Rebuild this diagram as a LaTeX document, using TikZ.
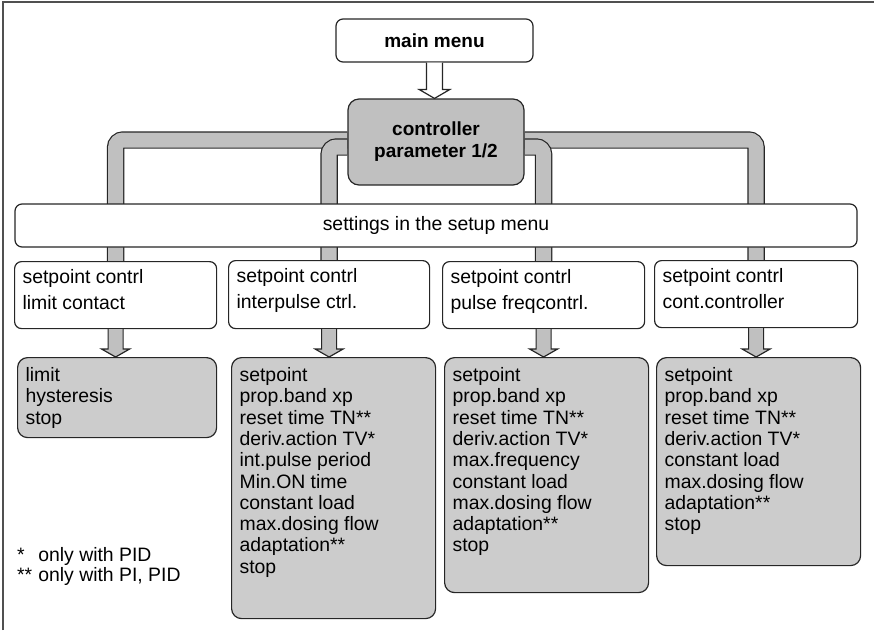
\documentclass[tikz,border=0pt]{standalone}
\usepackage{fontspec}
\setmainfont{Liberation Sans}
\usetikzlibrary{calc,backgrounds}
\definecolor{pipegray}{HTML}{C0C0C0}
\definecolor{listgray}{HTML}{CCCCCC}
\definecolor{framegray}{HTML}{505050}
% block arrow: style, from, to, shaft half width, head half width, head length
\newcommand{\blockarrow}[6]{%
  \draw[#1] ($(#2)+(-#4,0)$) -- ($(#2 |- #3)+(-#4,-#6)$) -- ($(#2 |- #3)+(-#5,-#6)$)
    -- (#2 |- #3) -- ($(#2 |- #3)+(#5,-#6)$) -- ($(#2 |- #3)+(#4,-#6)$) -- ($(#2)+(#4,0)$);}
\tikzset{
  menubox/.style={draw=black!85, line width=1.2pt, fill=white, rounded corners=7pt, inner sep=0pt},
  modebox/.style={menubox, anchor=north west, inner xsep=8pt, inner ysep=3.8pt, font=\fontsize{19.4}{26}\selectfont},
  listbox/.style={draw=black!85, line width=1.2pt, fill=listgray, rounded corners=10pt, anchor=north west, inner xsep=8pt, inner ysep=9pt},
  pipe/.style={draw=pipegray, line width=15pt, rounded corners=7.5pt, preaction={draw=black!85, line width=17.4pt}},
  grayarrow/.style={draw=black!85, line width=1.2pt, fill=pipegray, line join=miter},
  whitearrow/.style={grayarrow, fill=white}
}
\begin{document}
\begin{tikzpicture}[x=1pt, y=-1pt, font=\fontsize{19.4}{21.3}\selectfont]
  \useasboundingbox (0,0) rectangle (874,630);
  % frame
  \draw[framegray, line width=2pt] (3,630) -- (3,2) -- (874,2);
  % menus
  \node[menubox, minimum width=197pt, minimum height=43pt, font=\fontsize{19}{22}\selectfont\bfseries] (main) at (434.5,40.5) {main menu};
  \node[menubox, fill=pipegray, rounded corners=11pt, minimum width=176pt, minimum height=86pt, align=center, font=\fontsize{19}{22}\selectfont\bfseries] (ctrl) at (436,142) {controller\\parameter 1/2};
  \node[menubox, minimum width=842pt, minimum height=43pt] (setup) at (436,225.5) {settings in the setup menu};
  % controller modes
  \node[modebox] (m1) at (14,261) {\parbox[t][59.4pt][t]{186pt}{\strut setpoint contrl\\limit contact}};
  \node[modebox] (m2) at (228,260) {\parbox[t][60.4pt][t]{185pt}{\strut setpoint contrl\\interpulse ctrl.}};
  \node[modebox] (m3) at (442,261) {\parbox[t][59.4pt][t]{186pt}{\strut setpoint contrl\\pulse freqcontrl.}};
  \node[modebox] (m4) at (654,260) {\parbox[t][59.4pt][t]{187pt}{\strut setpoint contrl\\cont.controller}};
  % parameter lists
  \node[listbox] (p1) at (17,357) {\parbox[t][62pt][t]{183pt}{\strut limit\\hysteresis\\stop}};
  \node[listbox] (p2) at (231,357) {\parbox[t][243pt][t]{188pt}{\strut setpoint\\prop.band xp\\reset time TN**\\deriv.action TV*\\int.pulse period\\Min.ON time\\constant load\\max.dosing flow\\adaptation**\\stop}};
  \node[listbox] (p3) at (444,357) {\parbox[t][217pt][t]{188pt}{\strut setpoint\\prop.band xp\\reset time TN**\\deriv.action TV*\\max.frequency\\constant load\\max.dosing flow\\adaptation**\\stop}};
  \node[listbox] (p4) at (656,357) {\parbox[t][190pt][t]{188pt}{\strut setpoint\\prop.band xp\\reset time TN**\\deriv.action TV*\\constant load\\max.dosing flow\\adaptation**\\stop}};
  % notes
  \node[anchor=base west, inner sep=0pt, font=\fontsize{19.4}{20}\selectfont] (notes) at (17,561)
    {\begin{tabular}[t]{@{}l@{\hspace{6pt}}l@{}}{*}&only with PID\\{**}&only with PI, PID\end{tabular}};
  % pipes
  \begin{scope}[on background layer]
    \draw[pipe] ([yshift=2pt]ctrl.west) -| (m1.north);
    \draw[pipe] ([yshift=2pt]ctrl.east) -| (m4.north);
    \draw[pipe] ([yshift=-5pt]ctrl.west) -| (m2.north);
    \draw[pipe] ([yshift=-5pt]ctrl.east) -| (m3.north);
  \end{scope}
  % arrows
  \blockarrow{whitearrow}{main.south}{ctrl.north}{8}{15.5}{9}
  \blockarrow{grayarrow}{m1.south}{p1.north}{7.5}{14}{8}
  \blockarrow{grayarrow}{m2.south}{p2.north}{7.5}{14}{8}
  \blockarrow{grayarrow}{m3.south}{p3.north}{7.5}{14}{8}
  \blockarrow{grayarrow}{m4.south}{p4.north}{7.5}{14}{8}
\end{tikzpicture}
\end{document}
